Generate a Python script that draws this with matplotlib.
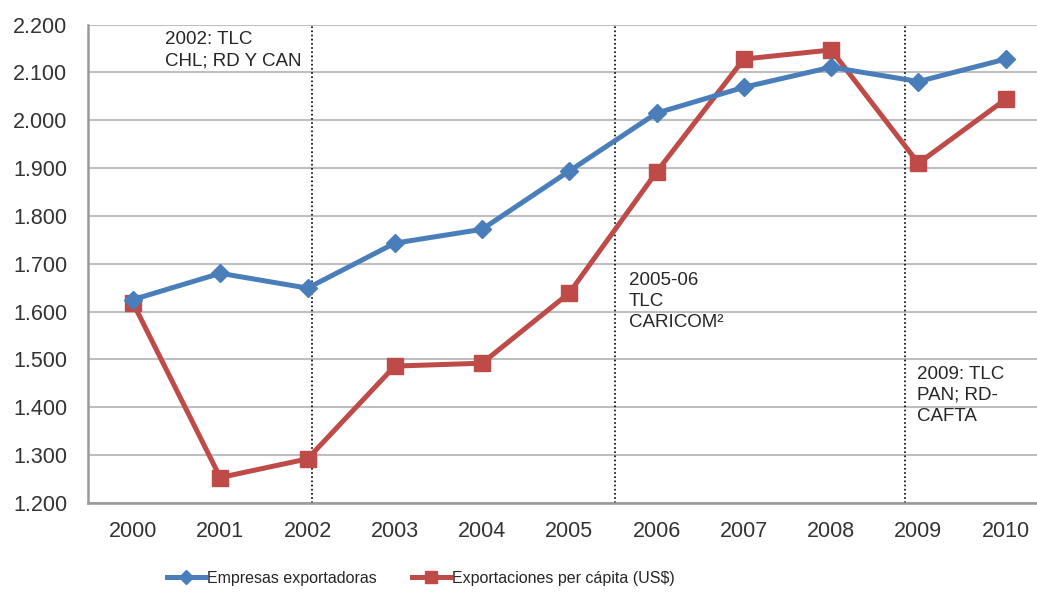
import matplotlib.pyplot as plt

plt.rcParams['font.family'] = ['Liberation Sans', 'DejaVu Sans']

years = ['2000', '2001', '2002', '2003', '2004', '2005',
         '2006', '2007', '2008', '2009', '2010']
empresas = [1625, 1680, 1649, 1743, 1772, 1894, 2015, 2069, 2111, 2081, 2128]
export_pc = [1618, 1253, 1292, 1486, 1492, 1639, 1892, 2128, 2147, 1910, 2044]

y_ticks = [1200, 1300, 1400, 1500, 1600, 1700, 1800, 1900, 2000, 2100, 2200]
y_tick_labels = ['1.200', '1.300', '1.400', '1.500', '1.600', '1.700',
                 '1.800', '1.900', '2.000', '2.100', '2.200']

# (dotted line position, text x, text top, label)
events = [(2.05, 0.37, 2186, '2002: TLC\nCHL; RD Y CAN'),
          (5.52, 5.68, 1682, '2005-06\nTLC\nCARICOM\u00b2'),
          (8.85, 8.98, 1486, '2009: TLC\nPAN; RD-\nCAFTA')]

blue = '#4A7EBB'
red = '#BE4B48'
text_col = '#262626'

fig = plt.figure(figsize=(10.37, 5.93), dpi=100)
ax = fig.add_axes([0.0849, 0.152, 0.927, 0.8065])

x = list(range(len(years)))
ax.plot(x, empresas, color=blue, lw=3.6, marker='D', ms=9,
        label='Empresas exportadoras', zorder=4)
ax.plot(x, export_pc, color=red, lw=3.6, marker='s', ms=11,
        label='Exportaciones per cápita (US$)', zorder=3)

for xv, xt, yt, txt in events:
    ax.axvline(xv, color='black', ls=(0, (1, 1.5)), lw=1.2, zorder=2)
    ax.text(xt, yt, txt, fontsize=13.5, color=text_col, va='top', ha='left',
            linespacing=1.3)

ax.set_xlim(-0.515, 10.5)
ax.set_ylim(1200, 2200)
ax.set_xticks(x)
ax.set_xticklabels(years)
ax.set_yticks(y_ticks)
ax.set_yticklabels(y_tick_labels)
ax.tick_params(length=0, labelsize=15.5, colors='#333333')
ax.tick_params(axis='y', pad=15)
ax.tick_params(axis='x', pad=13)

ax.grid(axis='y', color='#BFBFBF', lw=1.5)
ax.set_axisbelow(True)
for s in ['top', 'right']:
    ax.spines[s].set_visible(False)
for s in ['left', 'bottom']:
    ax.spines[s].set_color('#9A9A9A')
    ax.spines[s].set_linewidth(1.8)

leg = fig.legend(loc='center left', bbox_to_anchor=(0.161, 1 - 578 / 593),
                 ncol=2, frameon=False, fontsize=11.5,
                 handlelength=2.4, handletextpad=0.1, columnspacing=2.2,
                 borderaxespad=0, borderpad=0, markerscale=0.8)
for t in leg.get_texts():
    t.set_color(text_col)

fig.savefig('out.png', dpi=100)
